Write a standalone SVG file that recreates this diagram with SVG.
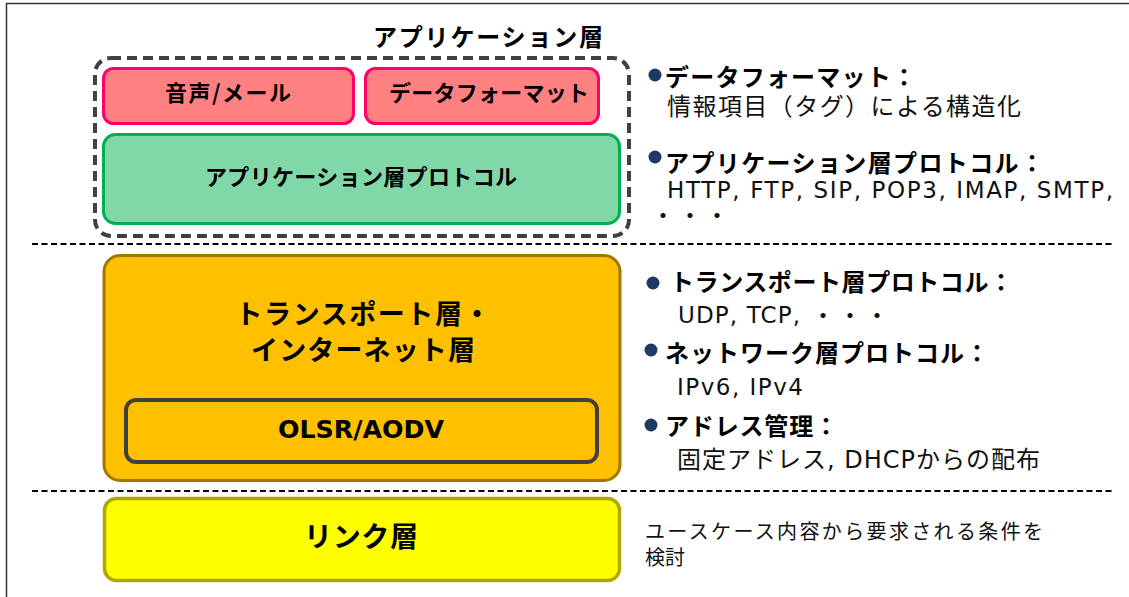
<svg xmlns="http://www.w3.org/2000/svg" width="1129" height="597" viewBox="0 0 1129 597">
<style>
.jb{font-family:"Noto Sans CJK JP",sans-serif;font-weight:700;fill:#000}
.jn{font-family:"Noto Sans CJK JP",sans-serif;font-weight:400;fill:#111}
.lb{font-family:"DejaVu Sans","Noto Sans CJK JP",sans-serif;font-weight:700;fill:#000}
.ln{font-family:"DejaVu Sans","Noto Sans CJK JP",sans-serif;font-weight:400;fill:#111}
.mix{font-family:"DejaVu Sans","Noto Sans CJK JP",sans-serif;font-weight:400;fill:#111}
.pink{fill:#FF8080;stroke:#FF0066;stroke-width:3}
.sep{stroke:#000;stroke-width:2;stroke-dasharray:6 3.5;fill:none}
.dot{fill:#1F3864}
.dots{font-family:"Noto Sans CJK JP",sans-serif;font-weight:400;fill:#111;font-size:24px;letter-spacing:3px}
</style>
<rect x="6.5" y="3.5" width="1140" height="610" fill="#fff" stroke="#333" stroke-width="1.5"/>

<g id="connectors">
  <line class="sep" x1="32" y1="244" x2="1115" y2="244"/>
  <line class="sep" x1="32" y1="491" x2="1115" y2="491"/>
</g>

<g id="app-layer">
  <rect x="95" y="58" width="534" height="178" rx="16" fill="none" stroke="#404040" stroke-width="4" stroke-dasharray="10 6"/>
  <text class="jb" x="488" y="46" font-size="24" text-anchor="middle" textLength="230" lengthAdjust="spacing">アプリケーション層</text>
</g>

<g id="voice-mail">
  <rect class="pink" x="103.5" y="68.5" width="250" height="55" rx="10"/>
  <text class="jb" x="228" y="101" font-size="22" text-anchor="middle" textLength="126" lengthAdjust="spacing">音声/メール</text>
</g>

<g id="data-format">
  <rect class="pink" x="365.5" y="68.5" width="233" height="55" rx="10"/>
  <text class="jb" x="489" y="101" font-size="22" text-anchor="middle" textLength="200" lengthAdjust="spacing">データフォーマット</text>
</g>

<g id="app-protocol">
  <rect x="103.5" y="134.5" width="516" height="89" rx="12" fill="#80D8A8" stroke="#00B050" stroke-width="3"/>
  <text class="jb" x="361" y="185" font-size="22" text-anchor="middle" textLength="312" lengthAdjust="spacing">アプリケーション層プロトコル</text>
</g>

<g id="transport-internet">
  <rect x="104" y="255.5" width="516" height="225" rx="16" fill="#FFC000" stroke="#A07800" stroke-width="3"/>
  <text class="jb" x="363" y="324" font-size="27" text-anchor="middle" textLength="255" lengthAdjust="spacing">トランスポート層・</text>
  <text class="jb" x="363" y="360" font-size="27" text-anchor="middle" textLength="224" lengthAdjust="spacing">インターネット層</text>
</g>

<g id="olsr-aodv">
  <rect x="126" y="400" width="471" height="62" rx="10" fill="#FFC000" stroke="#404040" stroke-width="4"/>
  <text class="lb" x="361" y="438" font-size="25" text-anchor="middle" textLength="166" lengthAdjust="spacingAndGlyphs">OLSR/AODV</text>
</g>

<g id="link-layer">
  <rect x="104.5" y="498.5" width="515" height="82" rx="12" fill="#FFFF00" stroke="#B0A800" stroke-width="3.5"/>
  <text class="jb" x="361" y="547" font-size="28" text-anchor="middle" textLength="114" lengthAdjust="spacing">リンク層</text>
</g>

<g id="notes-app">
  <circle class="dot" cx="655" cy="75" r="6.5"/>
  <text class="jb" x="665" y="86" font-size="24" textLength="251" lengthAdjust="spacing">データフォーマット：</text>
  <text class="jn" x="667" y="115" font-size="24" textLength="354" lengthAdjust="spacing">情報項目（タグ）による構造化</text>
  <circle class="dot" cx="655" cy="157" r="6.5"/>
  <text class="jb" x="665" y="172" font-size="24" textLength="379" lengthAdjust="spacing">アプリケーション層プロトコル：</text>
  <text class="ln" x="667" y="198" font-size="23" textLength="446" lengthAdjust="spacing">HTTP, FTP, SIP, POP3, IMAP, SMTP,</text>
  <text class="dots" x="651" y="224">・・・</text>
</g>

<g id="notes-transport">
  <circle class="dot" cx="653" cy="283" r="6.5"/>
  <text class="jb" x="670" y="291" font-size="24" textLength="343" lengthAdjust="spacing">トランスポート層プロトコル：</text>
  <text class="ln" x="678" y="323" font-size="23" textLength="122" lengthAdjust="spacing">UDP, TCP,</text>
  <text class="dots" x="811" y="324">・・・</text>
  <circle class="dot" cx="651" cy="350" r="6.5"/>
  <text class="jb" x="665" y="362" font-size="24" textLength="324" lengthAdjust="spacing">ネットワーク層プロトコル：</text>
  <text class="ln" x="677" y="395" font-size="23" textLength="126" lengthAdjust="spacing">IPv6, IPv4</text>
  <circle class="dot" cx="651" cy="425" r="6.5"/>
  <text class="jb" x="665" y="435" font-size="24" textLength="173" lengthAdjust="spacing">アドレス管理：</text>
  <text class="mix" x="677" y="468" font-size="24" textLength="363" lengthAdjust="spacing">固定アドレス, DHCPからの配布</text>
</g>

<g id="notes-link">
  <text class="jn" x="645" y="539" font-size="20" textLength="398" lengthAdjust="spacing" font-weight="300">ユースケース内容から要求される条件を</text>
  <text class="jn" x="645" y="565" font-size="20" font-weight="300">検討</text>
</g>
</svg>
